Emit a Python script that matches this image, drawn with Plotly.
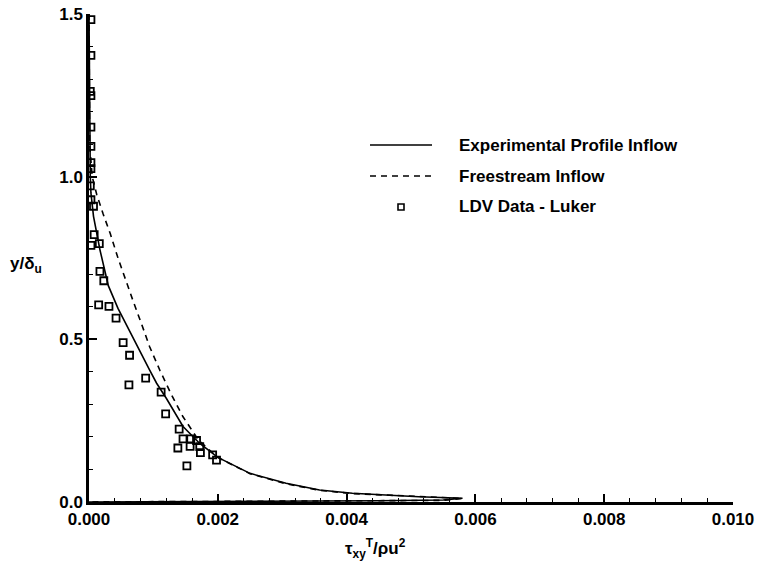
import plotly.graph_objects as go

# ---- data ----
solid_x = [0.0, 0.00001, 0.00002, 0.00003, 0.00007, 0.00017, 0.00030, 0.00045, 0.00058,
           0.00069, 0.00094, 0.00105, 0.00120, 0.00146, 0.00172, 0.00200, 0.00250,
           0.00306, 0.00358, 0.00409, 0.00461, 0.00512, 0.00580,
           0.00550, 0.00450, 0.00350, 0.00250, 0.00150, 0.00050, 0.0]
solid_y = [1.5, 1.2, 1.0, 0.95, 0.878, 0.775, 0.665, 0.595, 0.545,
           0.498, 0.406, 0.365, 0.319, 0.232, 0.18, 0.137, 0.088,
           0.0575, 0.037, 0.027, 0.0215, 0.0163, 0.0113,
           0.006, 0.004, 0.003, 0.002, 0.0015, 0.001, 0.0]

dash_x = [0.0, 0.00001, 0.00005, 0.00009, 0.00012, 0.00022, 0.00033, 0.00045, 0.00056,
          0.00069, 0.00082, 0.00094, 0.00110, 0.00128, 0.00146, 0.00159, 0.00170,
          0.00200, 0.00250, 0.00306, 0.00358, 0.00409, 0.00461, 0.00512, 0.00580,
          0.00550, 0.00450, 0.00350, 0.00250, 0.00150, 0.00050, 0.0]
dash_y = [1.5, 1.1, 1.0, 0.97, 0.945, 0.885, 0.825, 0.75, 0.685,
          0.615, 0.545, 0.478, 0.405, 0.33, 0.262, 0.222, 0.19,
          0.137, 0.087, 0.056, 0.036, 0.026, 0.021, 0.016, 0.011,
          0.005, 0.0035, 0.0025, 0.0018, 0.0012, 0.0008, 0.0]

ldv_x = [0.00003, 0.00003, 0.00002, 0.00003, 0.00003, 0.00003, 0.00003, 0.00003,
         0.00002, 0.00003, 0.00007, 0.00008, 0.00003, 0.00016, 0.00017, 0.00023,
         0.00015, 0.00031, 0.00042, 0.00053, 0.00063, 0.00062, 0.00088, 0.00112,
         0.00119, 0.00140, 0.00146, 0.00158, 0.00167, 0.00138, 0.00157, 0.00172,
         0.00173, 0.00192, 0.00198, 0.00152]
ldv_y = [1.483, 1.373, 1.262, 1.249, 1.152, 1.093, 1.043, 1.025,
         0.972, 0.929, 0.909, 0.822, 0.789, 0.794, 0.709, 0.680,
         0.606, 0.601, 0.565, 0.490, 0.451, 0.360, 0.381, 0.338,
         0.271, 0.224, 0.194, 0.194, 0.189, 0.166, 0.171, 0.170,
         0.152, 0.145, 0.129, 0.111]

x_ticks = [0.0, 0.002, 0.004, 0.006, 0.008, 0.010]
x_ticklabels = ["0.000", "0.002", "0.004", "0.006", "0.008", "0.010"]
y_ticks = [0.0, 0.5, 1.0, 1.5]
y_ticklabels = ["0.0", "0.5", "1.0", "1.5"]

legend_labels = ["Experimental Profile Inflow", "Freestream Inflow", "LDV Data - Luker"]

FONT = "Liberation Sans, Arial, Helvetica, sans-serif"

fig = go.Figure()
fig.add_trace(go.Scatter(x=solid_x, y=solid_y, mode="lines",
                         line=dict(color="black", width=1.6), name=legend_labels[0],
                         showlegend=False))
fig.add_trace(go.Scatter(x=dash_x, y=dash_y, mode="lines",
                         line=dict(color="black", width=1.6, dash="6px,5px"),
                         name=legend_labels[1], showlegend=False))
fig.add_trace(go.Scatter(x=ldv_x, y=ldv_y, mode="markers",
                         marker=dict(symbol="square-open", size=7, color="black",
                                     line=dict(color="black", width=1.8)),
                         name=legend_labels[2], showlegend=False))

# ---- manual legend ----
px0, px1 = 89, 733
py0, py1 = 502, 14
def pxx(p):
    return (p - px0) / (px1 - px0)
def pyy(p):
    return (py0 - p) / (py0 - py1)

rows = [145, 176, 207]
fig.add_shape(type="line", xref="paper", yref="paper",
              x0=pxx(370), x1=pxx(432), y0=pyy(rows[0]), y1=pyy(rows[0]),
              line=dict(color="black", width=1.6))
fig.add_shape(type="line", xref="paper", yref="paper",
              x0=pxx(370), x1=pxx(432), y0=pyy(rows[1]), y1=pyy(rows[1]),
              line=dict(color="black", width=1.6, dash="6px,5px"))
fig.add_shape(type="rect", xref="paper", yref="paper",
              x0=pxx(398), x1=pxx(404), y0=pyy(rows[2] + 3), y1=pyy(rows[2] - 3),
              line=dict(color="black", width=1.6))
for r, lab in zip(rows, legend_labels):
    fig.add_annotation(xref="paper", yref="paper", x=pxx(457), y=pyy(r),
                       xanchor="left", yanchor="middle", text=lab, showarrow=False,
                       font=dict(family=FONT, size=17, color="black", weight="bold"))

# axis titles
fig.add_annotation(xref="paper", yref="paper", x=pxx(375), y=pyy(548),
                   xanchor="center", yanchor="middle", showarrow=False,
                   text="τ<sub>xy</sub><sup>T</sup>/ρu<sup>2</sup>",
                   font=dict(family=FONT, size=17, color="black", weight="bold"))
fig.add_annotation(xref="paper", yref="paper", x=pxx(26), y=pyy(265),
                   xanchor="center", yanchor="middle", showarrow=False,
                   text="y/δ<sub>u</sub>",
                   font=dict(family=FONT, size=17, color="black", weight="bold"))

axis_common = dict(showgrid=False, zeroline=False, showline=True, linecolor="black",
                   linewidth=2.5, ticks="inside", ticklen=8, tickwidth=1.6,
                   tickcolor="black", automargin=False,
                   tickfont=dict(family=FONT, size=17, color="black", weight="bold"))

fig.update_xaxes(range=[0, 0.010], tickvals=x_ticks, ticktext=x_ticklabels,
                 minor=dict(ticks="inside", ticklen=4, tickwidth=1.3, dtick=0.0004,
                            tickcolor="black"),
                 **axis_common)
fig.update_yaxes(range=[0, 1.5], tickvals=y_ticks, ticktext=y_ticklabels,
                 minor=dict(ticks="inside", ticklen=4, tickwidth=1.3, dtick=0.1,
                            tickcolor="black"),
                 **axis_common)

fig.update_layout(width=757, height=567,
                  margin=dict(l=89, r=24, t=14, b=65, autoexpand=False),
                  plot_bgcolor="white", paper_bgcolor="white",
                  showlegend=False)

fig.write_html("out.html",
               config={"displayModeBar": False},
               post_script="document.body.style.margin='0';document.body.style.overflow='hidden';")
